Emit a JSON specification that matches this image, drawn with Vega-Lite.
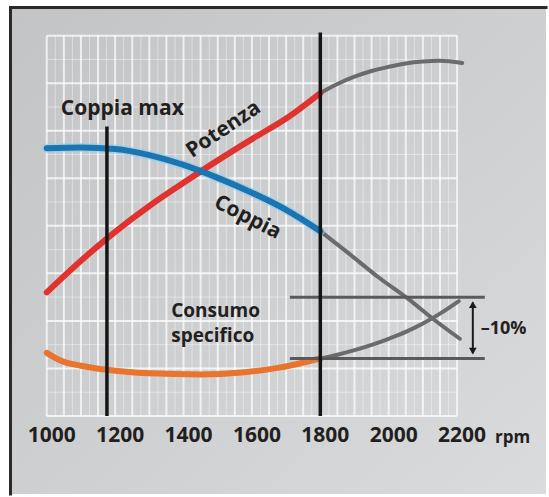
{
  "$schema": "https://vega.github.io/schema/vega-lite/v6.json",
  "width": 549,
  "height": 497,
  "autosize": {"type": "fit", "contains": "padding"},
  "padding": {"left": 7.5, "top": 4.5, "right": 0, "bottom": 0},
  "background": "#ffffff",
  "config": {
    "view": {"stroke": null, "fill": "#cbcccf"},
    "font": "Open Sans"
  },
  "datasets": {
    "vmaj": [{"rpm":1000,"lo":0,"hi":100},{"rpm":1050,"lo":0,"hi":100},{"rpm":1100,"lo":0,"hi":100},{"rpm":1150,"lo":0,"hi":100},{"rpm":1200,"lo":0,"hi":100},{"rpm":1250,"lo":0,"hi":100},{"rpm":1300,"lo":0,"hi":100},{"rpm":1350,"lo":0,"hi":100},{"rpm":1400,"lo":0,"hi":100},{"rpm":1450,"lo":0,"hi":100},{"rpm":1500,"lo":0,"hi":100},{"rpm":1550,"lo":0,"hi":100},{"rpm":1600,"lo":0,"hi":100},{"rpm":1650,"lo":0,"hi":100},{"rpm":1700,"lo":0,"hi":100},{"rpm":1750,"lo":0,"hi":100},{"rpm":1800,"lo":0,"hi":100},{"rpm":1850,"lo":0,"hi":100},{"rpm":1900,"lo":0,"hi":100},{"rpm":1950,"lo":0,"hi":100},{"rpm":2000,"lo":0,"hi":100},{"rpm":2050,"lo":0,"hi":100},{"rpm":2100,"lo":0,"hi":100},{"rpm":2150,"lo":0,"hi":100},{"rpm":2200,"lo":0,"hi":100}],
    "vmin": [{"rpm":1025,"lo":0,"hi":100},{"rpm":1075,"lo":0,"hi":100},{"rpm":1125,"lo":0,"hi":100},{"rpm":1175,"lo":0,"hi":100},{"rpm":1225,"lo":0,"hi":100},{"rpm":1275,"lo":0,"hi":100},{"rpm":1325,"lo":0,"hi":100},{"rpm":1375,"lo":0,"hi":100},{"rpm":1425,"lo":0,"hi":100},{"rpm":1475,"lo":0,"hi":100},{"rpm":1525,"lo":0,"hi":100},{"rpm":1575,"lo":0,"hi":100},{"rpm":1625,"lo":0,"hi":100},{"rpm":1675,"lo":0,"hi":100},{"rpm":1725,"lo":0,"hi":100},{"rpm":1775,"lo":0,"hi":100},{"rpm":1825,"lo":0,"hi":100},{"rpm":1875,"lo":0,"hi":100},{"rpm":1925,"lo":0,"hi":100},{"rpm":1975,"lo":0,"hi":100},{"rpm":2025,"lo":0,"hi":100},{"rpm":2075,"lo":0,"hi":100},{"rpm":2125,"lo":0,"hi":100},{"rpm":2175,"lo":0,"hi":100}],
    "hmaj": [{"v":0,"a":1000,"b":2200},{"v":12.5,"a":1000,"b":2200},{"v":25,"a":1000,"b":2200},{"v":37.5,"a":1000,"b":2200},{"v":50,"a":1000,"b":2200},{"v":62.5,"a":1000,"b":2200},{"v":75,"a":1000,"b":2200},{"v":87.5,"a":1000,"b":2200},{"v":100,"a":1000,"b":2200}],
    "hmin": [{"v":6.25,"a":1000,"b":2200},{"v":18.75,"a":1000,"b":2200},{"v":31.25,"a":1000,"b":2200},{"v":43.75,"a":1000,"b":2200},{"v":56.25,"a":1000,"b":2200},{"v":68.75,"a":1000,"b":2200},{"v":81.25,"a":1000,"b":2200},{"v":93.75,"a":1000,"b":2200}],
    "curves": [
      {"s":"Potenza","f":"base","rpm":1000,"v":32.5},
      {"s":"Potenza","f":"base","rpm":1100,"v":40.8},
      {"s":"Potenza","f":"base","rpm":1200,"v":48.4},
      {"s":"Potenza","f":"base","rpm":1300,"v":55.2},
      {"s":"Potenza","f":"base","rpm":1400,"v":61.3},
      {"s":"Potenza","f":"base","rpm":1500,"v":67.2},
      {"s":"Potenza","f":"base","rpm":1600,"v":72.8},
      {"s":"Potenza","f":"base","rpm":1700,"v":78.2},
      {"s":"Potenza","f":"base","rpm":1800,"v":84.9},
      {"s":"Potenza","f":"oltre","rpm":1800,"v":84.9},
      {"s":"Potenza","f":"oltre","rpm":1850,"v":87.3},
      {"s":"Potenza","f":"oltre","rpm":1900,"v":89.2},
      {"s":"Potenza","f":"oltre","rpm":1950,"v":90.7},
      {"s":"Potenza","f":"oltre","rpm":2000,"v":91.8},
      {"s":"Potenza","f":"oltre","rpm":2050,"v":92.7},
      {"s":"Potenza","f":"oltre","rpm":2100,"v":93.2},
      {"s":"Potenza","f":"oltre","rpm":2150,"v":93.4},
      {"s":"Potenza","f":"oltre","rpm":2215,"v":92.8},
      {"s":"Coppia","f":"base","rpm":1000,"v":70.4},
      {"s":"Coppia","f":"base","rpm":1100,"v":70.6},
      {"s":"Coppia","f":"base","rpm":1200,"v":70.2},
      {"s":"Coppia","f":"base","rpm":1300,"v":68.6},
      {"s":"Coppia","f":"base","rpm":1400,"v":66.0},
      {"s":"Coppia","f":"base","rpm":1500,"v":62.6},
      {"s":"Coppia","f":"base","rpm":1600,"v":58.7},
      {"s":"Coppia","f":"base","rpm":1700,"v":54.2},
      {"s":"Coppia","f":"base","rpm":1800,"v":48.6},
      {"s":"Coppia","f":"oltre","rpm":1800,"v":48.6},
      {"s":"Coppia","f":"oltre","rpm":1885,"v":42.6},
      {"s":"Coppia","f":"oltre","rpm":1971,"v":36.4},
      {"s":"Coppia","f":"oltre","rpm":2058,"v":30.7},
      {"s":"Coppia","f":"oltre","rpm":2130,"v":25.5},
      {"s":"Coppia","f":"oltre","rpm":2208,"v":20.3},
      {"s":"Consumo","f":"base","rpm":1000,"v":16.6},
      {"s":"Consumo","f":"base","rpm":1040,"v":14.6},
      {"s":"Consumo","f":"base","rpm":1100,"v":13.2},
      {"s":"Consumo","f":"base","rpm":1170,"v":12.2},
      {"s":"Consumo","f":"base","rpm":1300,"v":11.2},
      {"s":"Consumo","f":"base","rpm":1450,"v":10.9},
      {"s":"Consumo","f":"base","rpm":1570,"v":11.4},
      {"s":"Consumo","f":"base","rpm":1680,"v":12.7},
      {"s":"Consumo","f":"base","rpm":1800,"v":15.1},
      {"s":"Consumo","f":"oltre","rpm":1800,"v":15.1},
      {"s":"Consumo","f":"oltre","rpm":1850,"v":16.1},
      {"s":"Consumo","f":"oltre","rpm":1900,"v":17.3},
      {"s":"Consumo","f":"oltre","rpm":1950,"v":18.7},
      {"s":"Consumo","f":"oltre","rpm":2000,"v":20.3},
      {"s":"Consumo","f":"oltre","rpm":2050,"v":22.1},
      {"s":"Consumo","f":"oltre","rpm":2100,"v":24.3},
      {"s":"Consumo","f":"oltre","rpm":2150,"v":26.9},
      {"s":"Consumo","f":"oltre","rpm":2205,"v":30.2}
    ],
    "ticks": [{"rpm":1000,"v":-5.2},{"rpm":1200,"v":-5.2},{"rpm":1400,"v":-5.2},{"rpm":1600,"v":-5.2},{"rpm":1800,"v":-5.2},{"rpm":2000,"v":-5.2},{"rpm":2200,"v":-5.2}],
    "verticali": [{"rpm":1176,"lo":0,"hi":76.1},{"rpm":1800,"lo":0,"hi":100.8}],
    "livelli": [{"v":31.2,"a":1711,"b":2281},{"v":15.1,"a":1711,"b":2281}],
    "freccia": [{"rpm":2246,"lo":16.5,"hi":29.8}],
    "sfondo": [{"a":894,"b":2460,"lo":-20.52,"hi":107.4}],
    "bordi_v": [{"rpm":894,"lo":-20.52,"hi":107.4}],
    "bordi_h": [{"v":107.4,"a":894,"b":2460}]
  },
  "layer": [
    {
      "data": {"name": "sfondo"},
      "mark": {"type": "rect", "color": {"gradient": "linear", "x1": 0, "y1": 0, "x2": 1, "y2": 1,
        "stops": [{"offset": 0, "color": "#c3c4c6"}, {"offset": 0.55, "color": "#cfd0d2"}, {"offset": 1, "color": "#dadbdd"}]}},
      "encoding": {
        "x": {"field": "a", "type": "quantitative", "scale": {"domain": [894, 2460], "nice": false, "zero": false}, "axis": null},
        "x2": {"field": "b"},
        "y": {"field": "lo", "type": "quantitative", "scale": {"domain": [-20.52, 107.4], "nice": false, "zero": false}, "axis": null},
        "y2": {"field": "hi"}
      }
    },
    {
      "data": {"name": "vmin"},
      "mark": {"type": "rule", "color": "#ffffff", "strokeWidth": 1, "opacity": 0.4},
      "encoding": {
        "x": {"field": "rpm", "type": "quantitative"},
        "y": {"field": "lo", "type": "quantitative"},
        "y2": {"field": "hi"}
      }
    },
    {
      "data": {"name": "vmaj"},
      "mark": {"type": "rule", "color": "#ffffff", "strokeWidth": 2, "opacity": 0.7},
      "encoding": {
        "x": {"field": "rpm", "type": "quantitative"},
        "y": {"field": "lo", "type": "quantitative"},
        "y2": {"field": "hi"}
      }
    },
    {
      "data": {"name": "hmin"},
      "mark": {"type": "rule", "color": "#ffffff", "strokeWidth": 1, "opacity": 0.4},
      "encoding": {
        "y": {"field": "v", "type": "quantitative"},
        "x": {"field": "a", "type": "quantitative"},
        "x2": {"field": "b"}
      }
    },
    {
      "data": {"name": "hmaj"},
      "mark": {"type": "rule", "color": "#ffffff", "strokeWidth": 2, "opacity": 0.75},
      "encoding": {
        "y": {"field": "v", "type": "quantitative"},
        "x": {"field": "a", "type": "quantitative"},
        "x2": {"field": "b"}
      }
    },
    {
      "data": {"name": "curves"},
      "transform": [{"filter": "datum.f === 'oltre'"}],
      "mark": {"type": "line", "color": "#6b6b6b", "strokeWidth": 4, "interpolate": "monotone", "strokeCap": "round"},
      "encoding": {
        "x": {"field": "rpm", "type": "quantitative"},
        "y": {"field": "v", "type": "quantitative"},
        "detail": {"field": "s", "type": "nominal"}
      }
    },
    {
      "data": {"name": "curves"},
      "transform": [{"filter": "datum.f === 'base' && datum.s === 'Coppia'"}],
      "mark": {"type": "line", "color": "#8fd0ee", "strokeWidth": 9, "opacity": 0.7, "interpolate": "monotone", "strokeCap": "round"},
      "encoding": {
        "x": {"field": "rpm", "type": "quantitative"},
        "y": {"field": "v", "type": "quantitative"}
      }
    },
    {
      "data": {"name": "curves"},
      "transform": [{"filter": "datum.f === 'base'"}],
      "mark": {"type": "line", "strokeWidth": 6, "interpolate": "monotone", "strokeCap": "round"},
      "encoding": {
        "x": {"field": "rpm", "type": "quantitative"},
        "y": {"field": "v", "type": "quantitative"},
        "color": {"field": "s", "type": "nominal", "legend": null,
          "scale": {"domain": ["Potenza", "Coppia", "Consumo"], "range": ["#e0332f", "#1c74b0", "#e8742e"]}}
      }
    },
    {
      "data": {"name": "livelli"},
      "mark": {"type": "rule", "color": "#5a5a5a", "strokeWidth": 3},
      "encoding": {
        "y": {"field": "v", "type": "quantitative"},
        "x": {"field": "a", "type": "quantitative"},
        "x2": {"field": "b"}
      }
    },
    {
      "data": {"name": "verticali"},
      "mark": {"type": "rule", "color": "#151515", "strokeWidth": 3.5},
      "encoding": {
        "x": {"field": "rpm", "type": "quantitative"},
        "y": {"field": "lo", "type": "quantitative"},
        "y2": {"field": "hi"}
      }
    },
    {
      "data": {"name": "freccia"},
      "mark": {"type": "rule", "color": "#1a1a1a", "strokeWidth": 2},
      "encoding": {
        "x": {"field": "rpm", "type": "quantitative"},
        "y": {"field": "lo", "type": "quantitative"},
        "y2": {"field": "hi"}
      }
    },
    {
      "data": {"name": "freccia"},
      "mark": {"type": "point", "shape": "triangle-up", "filled": true, "color": "#1a1a1a", "size": 60, "opacity": 1, "yOffset": 2},
      "encoding": {
        "x": {"field": "rpm", "type": "quantitative"},
        "y": {"field": "hi", "type": "quantitative"}
      }
    },
    {
      "data": {"name": "freccia"},
      "mark": {"type": "point", "shape": "triangle-down", "filled": true, "color": "#1a1a1a", "size": 60, "opacity": 1, "yOffset": -2},
      "encoding": {
        "x": {"field": "rpm", "type": "quantitative"},
        "y": {"field": "lo", "type": "quantitative"}
      }
    },
    {
      "data": {"name": "ticks"},
      "mark": {"type": "text", "font": "Open Sans", "fontWeight": "bold", "color": "#231f20", "fontSize": 21, "align": "center", "baseline": "middle", "dx": 5},
      "encoding": {
        "x": {"field": "rpm", "type": "quantitative"},
        "y": {"field": "v", "type": "quantitative"},
        "text": {"field": "rpm", "type": "nominal"}
      }
    },
    {
      "data": {"values": [{"rpm": 2362, "v": -5.7, "t": "rpm"}]},
      "mark": {"type": "text", "font": "Open Sans", "fontWeight": "bold", "color": "#231f20", "fontSize": 17, "align": "center", "baseline": "middle"},
      "encoding": {"x": {"field": "rpm", "type": "quantitative"}, "y": {"field": "v", "type": "quantitative"}, "text": {"field": "t"}}
    },
    {
      "data": {"values": [{"rpm": 1221, "v": 80.8, "t": "Coppia max"}]},
      "mark": {"type": "text", "font": "Open Sans", "fontWeight": "bold", "color": "#231f20", "fontSize": 21, "align": "center", "baseline": "middle"},
      "encoding": {"x": {"field": "rpm", "type": "quantitative"}, "y": {"field": "v", "type": "quantitative"}, "text": {"field": "t"}}
    },
    {
      "data": {"values": [{"rpm": 1517, "v": 75.3, "t": "Potenza"}]},
      "mark": {"type": "text", "font": "Open Sans", "fontWeight": "bold", "color": "#231f20", "fontSize": 21, "align": "center", "baseline": "middle", "angle": 326},
      "encoding": {"x": {"field": "rpm", "type": "quantitative"}, "y": {"field": "v", "type": "quantitative"}, "text": {"field": "t"}}
    },
    {
      "data": {"values": [{"rpm": 1587, "v": 52.2, "t": "Coppia"}]},
      "mark": {"type": "text", "font": "Open Sans", "fontWeight": "bold", "color": "#231f20", "fontSize": 21, "align": "center", "baseline": "middle", "angle": 27},
      "encoding": {"x": {"field": "rpm", "type": "quantitative"}, "y": {"field": "v", "type": "quantitative"}, "text": {"field": "t"}}
    },
    {
      "data": {"values": [{"rpm": 1364, "v": 27.6, "t": "Consumo"}, {"rpm": 1364, "v": 21.0, "t": "specifico"}]},
      "mark": {"type": "text", "font": "Open Sans", "fontWeight": "bold", "color": "#231f20", "fontSize": 19, "align": "left", "baseline": "middle"},
      "encoding": {"x": {"field": "rpm", "type": "quantitative"}, "y": {"field": "v", "type": "quantitative"}, "text": {"field": "t"}}
    },
    {
      "data": {"values": [{"rpm": 2269, "v": 22.9, "t": "–10%"}]},
      "mark": {"type": "text", "font": "Open Sans", "fontWeight": "bold", "color": "#231f20", "fontSize": 18, "align": "left", "baseline": "middle"},
      "encoding": {"x": {"field": "rpm", "type": "quantitative"}, "y": {"field": "v", "type": "quantitative"}, "text": {"field": "t"}}
    },
    {
      "data": {"name": "bordi_v"},
      "mark": {"type": "rule", "color": "#2a2a2a", "strokeWidth": 3, "strokeCap": "square"},
      "encoding": {
        "x": {"field": "rpm", "type": "quantitative"},
        "y": {"field": "lo", "type": "quantitative"},
        "y2": {"field": "hi"}
      }
    },
    {
      "data": {"name": "bordi_h"},
      "mark": {"type": "rule", "color": "#2a2a2a", "strokeWidth": 3, "strokeCap": "square"},
      "encoding": {
        "y": {"field": "v", "type": "quantitative"},
        "x": {"field": "a", "type": "quantitative"},
        "x2": {"field": "b"}
      }
    }
  ]
}
